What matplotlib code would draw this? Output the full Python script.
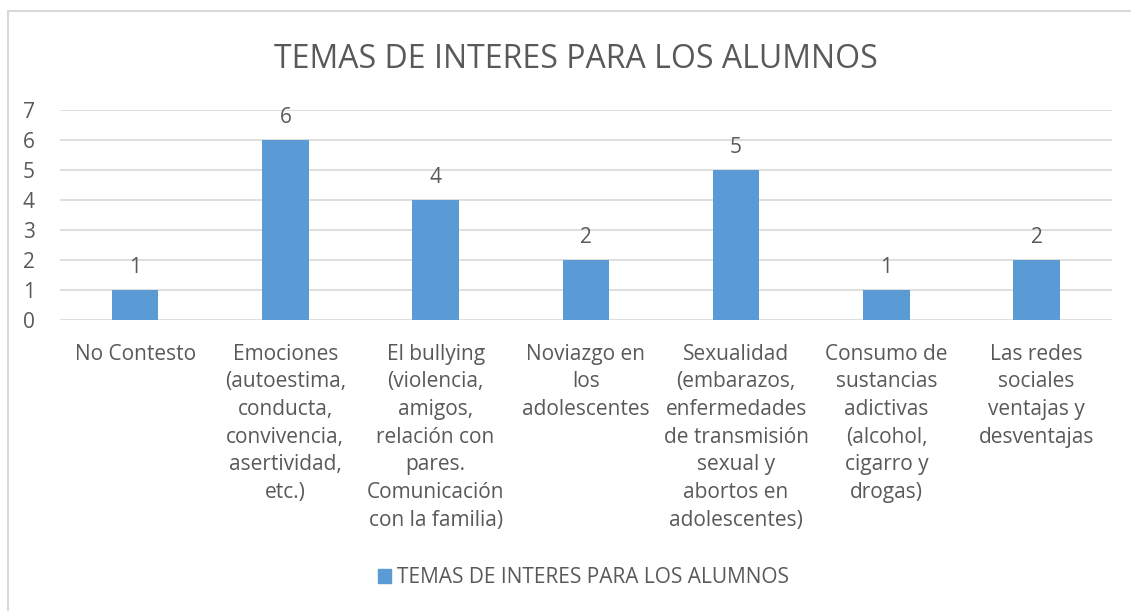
import matplotlib.pyplot as plt
from matplotlib.patches import Rectangle, Patch

# Data
categorias = [
    "No Contesto",
    "Emociones\n(autoestima,\nconducta,\nconvivencia,\nasertividad,\netc.)",
    "El bullying\n(violencia,\namigos,\nrelación con\npares.\nComunicación\ncon la familia)",
    "Noviazgo en\nlos\nadolescentes",
    "Sexualidad\n(embarazos,\nenfermedades\nde transmisión\nsexual y\nabortos en\nadolescentes)",
    "Consumo de\nsustancias\nadictivas\n(alcohol,\ncigarro y\ndrogas)",
    "Las redes\nsociales\nventajas y\ndesventajas",
]
valores = [1, 6, 4, 2, 5, 1, 2]
titulo = "TEMAS DE INTERES PARA LOS ALUMNOS"

plt.rcParams['font.family'] = ['Open Sans', 'DejaVu Sans']
texto = '#595959'
azul = '#5B9BD5'

fig = plt.figure(figsize=(11.31, 6.11), dpi=100)
ax = fig.add_axes([0.053, 0.4763, 0.930, 0.3437])

# Chart border
fig.patches.append(Rectangle((8 / 1131, -0.1), 1.2, 1 - 11 / 611 + 0.1,
                             transform=fig.transFigure, fill=False,
                             edgecolor='#D9D9D9', linewidth=1.5))

x = range(len(categorias))
bars = ax.bar(x, valores, width=0.31, color=azul, zorder=3)

for b, v in zip(bars, valores):
    ax.text(b.get_x() + b.get_width() / 2, v + 0.4, str(v), ha='center',
            va='bottom', fontsize=15, color=texto)

ax.set_xlim(-0.5, len(categorias) - 0.5)
ax.set_ylim(0, 7)
ax.set_yticks(range(0, 8))
ax.grid(axis='y', color='#D9D9D9', linewidth=1.2, zorder=0)
for s in ax.spines.values():
    s.set_visible(False)
ax.tick_params(axis='both', length=0, labelsize=15, labelcolor=texto)
ax.tick_params(axis='y', pad=18)
ax.set_xticks(list(x))
ax.set_xticklabels(categorias, linespacing=1.42)
ax.tick_params(axis='x', pad=17)

fig.text(0.509, 0.903, titulo, ha='center', va='center', fontsize=23,
         color=texto)

fig.legend(handles=[Patch(color=azul, label=titulo)], loc='center',
           bbox_to_anchor=(0.516, 0.055), frameon=False, fontsize=15,
           labelcolor=texto, handlelength=0.65, handleheight=0.65,
           handletextpad=0.3)

fig.savefig('out.png', dpi=100)
